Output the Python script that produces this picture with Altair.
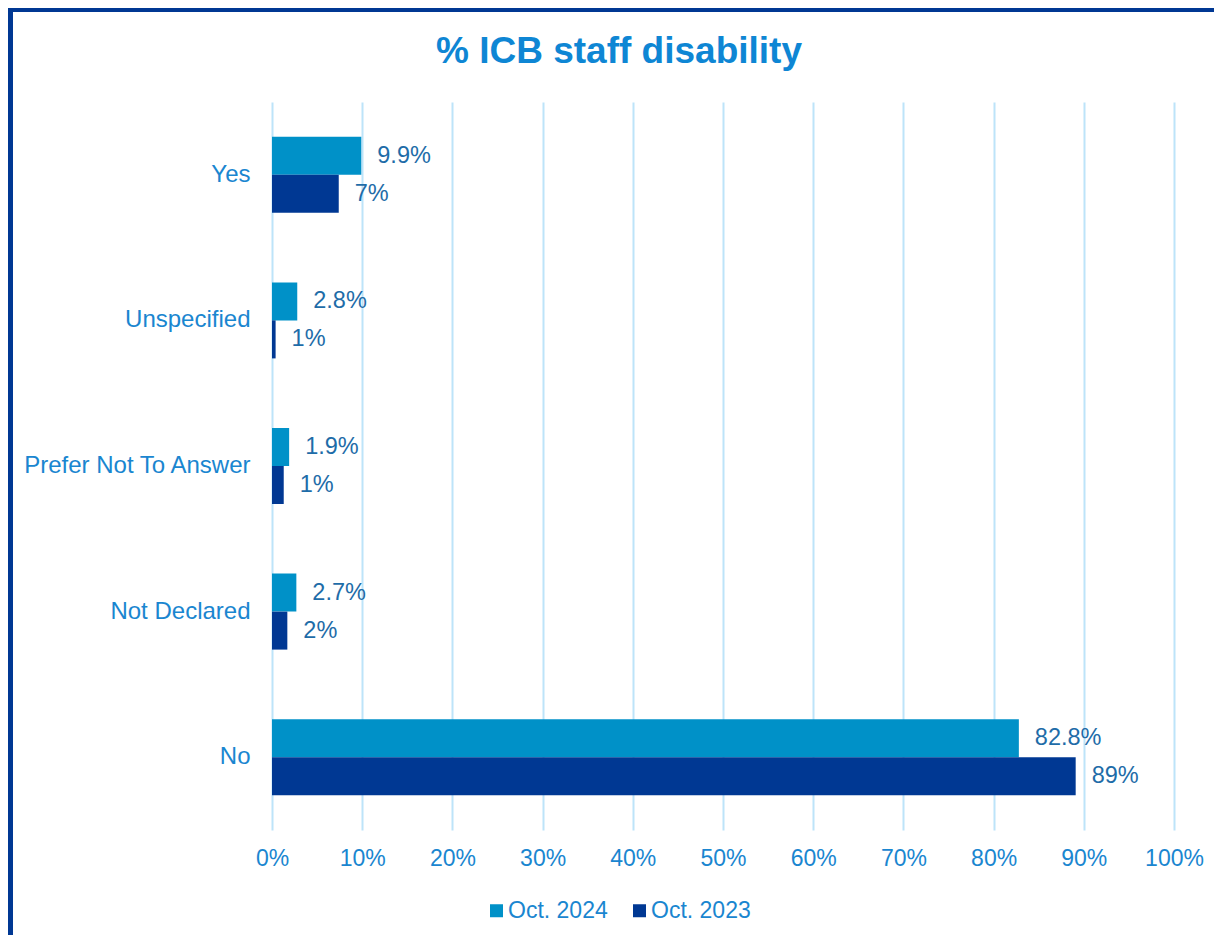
import altair as alt
import pandas as pd

categories = ["Yes", "Unspecified", "Prefer Not To Answer", "Not Declared", "No"]
series = ["Oct. 2024", "Oct. 2023"]
values_2024 = [9.9, 2.8, 1.9, 2.7, 82.8]
values_2023 = [7.4, 0.4, 1.3, 1.7, 89.1]
labels_2024 = ["9.9%", "2.8%", "1.9%", "2.7%", "82.8%"]
labels_2023 = ["7%", "1%", "1%", "2%", "89%"]
x_ticks = [0, 10, 20, 30, 40, 50, 60, 70, 80, 90, 100]
colors = ["#0091C8", "#003893"]
title_text = "% ICB staff disability"

rows = []
for c, v, l in zip(categories, values_2024, labels_2024):
    rows.append({"category": c, "series": series[0], "value": v, "label": l})
for c, v, l in zip(categories, values_2023, labels_2023):
    rows.append({"category": c, "series": series[1], "value": v, "label": l})
df = pd.DataFrame(rows)

FONT = "Liberation Sans"
W, H = 902, 728
PAD_L, PAD_T, PAD_R, PAD_B = 264, 94, 40, 105

y_enc = alt.Y(
    "category:N",
    sort=categories,
    scale=alt.Scale(paddingInner=0.478, paddingOuter=0.239),
    axis=alt.Axis(
        title=None, domain=False, ticks=False, labelPadding=22, labelLimit=400,
        labelFontSize=24, labelColor="#1A86D0", labelFont=FONT, grid=False,
    ),
)
yoff_enc = alt.YOffset("series:N", sort=series)
x_enc = alt.X(
    "value:Q",
    scale=alt.Scale(domain=[0, 100], nice=False, zero=True),
    axis=alt.Axis(
        title=None, values=x_ticks, labelExpr="datum.value + '%'", labelFlush=False,
        labelOverlap=False,
        domain=False, ticks=False, grid=True, gridColor="#BDE4F9", gridWidth=2,
        labelPadding=17, labelFontSize=23, labelColor="#1A86D0", labelFont=FONT,
    ),
)
color_enc = alt.Color(
    "series:N",
    sort=series,
    scale=alt.Scale(domain=series, range=colors),
    legend=alt.Legend(
        title=None, orient="none", legendX=213, legendY=797, direction="horizontal",
        symbolType="square", symbolSize=169, symbolStrokeWidth=0, symbolOpacity=1,
        labelFontSize=23, labelColor="#1A86D0", labelFont=FONT, labelOffset=0,
        columnPadding=20,
    ),
)

base = alt.Chart(df)
bars = base.mark_bar(opacity=1).encode(y=y_enc, yOffset=yoff_enc, x=x_enc, color=color_enc)
texts = base.mark_text(
    align="left", baseline="middle", dx=16, fontSize=23.5, font=FONT, color="#1E6CA8"
).encode(y=y_enc, yOffset=yoff_enc, x=x_enc, text="label:N")

bd = alt.Chart(pd.DataFrame({"t": [title_text]}))
title = bd.mark_text(
    align="center", baseline="middle", fontSize=37, fontWeight="bold", font=FONT,
    color="#0E86D4",
).encode(x=alt.value(347), y=alt.value(-50), text="t:N")
left_border = bd.mark_rule(color="#003893", strokeWidth=5).encode(
    x=alt.value(-PAD_L + 2.5), y=alt.value(-PAD_T), y2=alt.value(H + PAD_B)
)
top_border = bd.mark_rule(color="#003893", strokeWidth=4).encode(
    x=alt.value(-PAD_L), x2=alt.value(W + PAD_R), y=alt.value(-PAD_T + 2)
)

chart = alt.layer(bars, texts, title, left_border, top_border).properties(
    width=W,
    height=H,
    padding={"left": PAD_L, "top": PAD_T, "right": PAD_R, "bottom": PAD_B},
    autosize=alt.AutoSizeParams(type="none"),
).configure(background="white").configure_view(stroke=None)

chart.save("out.html", embed_options={"renderer": "svg", "actions": False})
